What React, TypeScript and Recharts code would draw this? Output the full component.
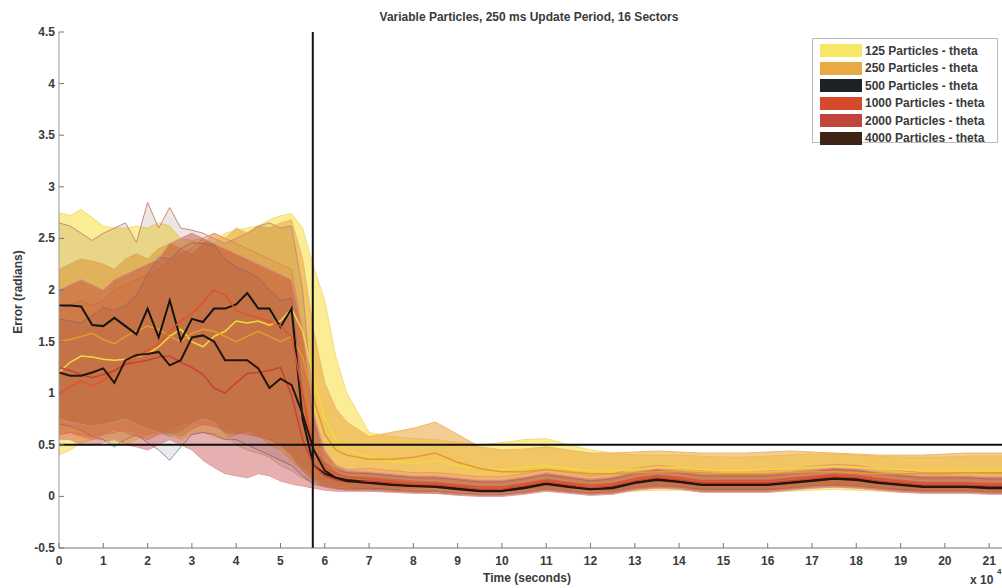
import { Area, ComposedChart, Line, ReferenceLine, XAxis, YAxis } from 'recharts'

// time axis, in units of 10^4 s
const timeX = [
    0, 0.25, 0.5, 0.75, 1, 1.25, 1.5, 1.75, 2, 2.25, 2.5, 2.75, 3, 3.25, 3.5, 3.75, 4, 4.25, 4.5, 4.75, 5, 5.25, 5.5, 5.75, 6, 6.25, 6.5,
    7, 7.5, 8, 8.5, 9, 9.5, 10, 10.5, 11, 11.5, 12, 12.5, 13, 13.5, 14, 14.5, 15, 15.5, 16, 16.5, 17, 17.5, 18, 18.5, 19, 19.5, 20, 20.5, 21, 21.5,
]

const xTicks = [0, 1, 2, 3, 4, 5, 6, 7, 8, 9, 10, 11, 12, 13, 14, 15, 16, 17, 18, 19, 20, 21]
const yTicks = [-0.5, 0, 0.5, 1, 1.5, 2, 2.5, 3, 3.5, 4, 4.5]

// 125 particles
const mean125 = [
    1.2, 1.3, 1.36, 1.35, 1.33, 1.32, 1.33, 1.35, 1.38, 1.45, 1.55, 1.62, 1.5, 1.45, 1.55, 1.6, 1.7, 1.68, 1.7, 1.66, 1.7, 1.82, 1.6, 1.15, 0.75, 0.55, 0.45,
    0.38, 0.34, 0.32, 0.35, 0.3, 0.27, 0.26, 0.28, 0.3, 0.27, 0.25, 0.25, 0.26, 0.28, 0.28, 0.26, 0.25, 0.25, 0.26, 0.27, 0.28, 0.29, 0.28, 0.27, 0.26, 0.25, 0.25, 0.25, 0.25, 0.25,
]
const hi125 = [
    2.75, 2.72, 2.78, 2.7, 2.62, 2.6, 2.6, 2.62, 2.6, 2.65, 2.62, 2.5, 2.48, 2.5, 2.45, 2.55, 2.58, 2.6, 2.62, 2.68, 2.72, 2.74, 2.6, 2.22, 1.9, 1.35, 1.0,
    0.62, 0.58, 0.56, 0.55, 0.52, 0.5, 0.52, 0.55, 0.56, 0.5, 0.45, 0.42, 0.4, 0.4, 0.4, 0.39, 0.38, 0.38, 0.39, 0.4, 0.41, 0.41, 0.4, 0.39, 0.38, 0.38, 0.38, 0.39, 0.39, 0.39,
]
const lo125 = [
    0.4, 0.45, 0.52, 0.55, 0.55, 0.5, 0.5, 0.55, 0.6, 0.62, 0.6, 0.55, 0.6, 0.62, 0.58, 0.55, 0.6, 0.65, 0.6, 0.5, 0.45, 0.35, 0.25, 0.15, 0.1, 0.08, 0.06,
    0.05, 0.05, 0.05, 0.05, 0.04, 0.04, 0.04, 0.05, 0.06, 0.05, 0.04, 0.04, 0.05, 0.06, 0.06, 0.05, 0.04, 0.04, 0.04, 0.05, 0.06, 0.07, 0.06, 0.05, 0.04, 0.04, 0.04, 0.04, 0.04, 0.04,
]

// 250 particles
const mean250 = [
    1.5, 1.52, 1.55, 1.58, 1.52, 1.48, 1.55, 1.6, 1.65, 1.62, 1.55, 1.5, 1.58, 1.62, 1.6, 1.55, 1.5, 1.55, 1.6, 1.55, 1.5, 1.55, 1.35, 0.95, 0.6, 0.45, 0.4,
    0.36, 0.36, 0.38, 0.42, 0.33, 0.27, 0.24, 0.24, 0.26, 0.24, 0.22, 0.22, 0.23, 0.24, 0.24, 0.23, 0.22, 0.22, 0.22, 0.23, 0.24, 0.24, 0.23, 0.22, 0.22, 0.22, 0.22, 0.23, 0.23, 0.23,
]
const hi250 = [
    2.2, 2.25, 2.3, 2.28, 2.25, 2.2, 2.3, 2.35, 2.3, 2.4, 2.45, 2.4, 2.35, 2.45, 2.55, 2.5, 2.6, 2.55, 2.62, 2.6, 2.65, 2.68, 2.3, 1.6, 1.1, 0.85, 0.72,
    0.58, 0.62, 0.66, 0.72, 0.6, 0.48, 0.45, 0.46, 0.48, 0.45, 0.42, 0.42, 0.43, 0.44, 0.43, 0.42, 0.42, 0.42, 0.43, 0.44, 0.43, 0.42, 0.41, 0.4, 0.4, 0.4, 0.41, 0.42, 0.42, 0.42,
]
const lo250 = [
    0.6, 0.62, 0.58, 0.55, 0.6, 0.65, 0.62, 0.58, 0.55, 0.6, 0.62, 0.58, 0.65, 0.7, 0.68, 0.62, 0.6, 0.62, 0.58, 0.55, 0.5, 0.4, 0.28, 0.18, 0.12, 0.1, 0.09,
    0.08, 0.08, 0.08, 0.09, 0.07, 0.06, 0.06, 0.07, 0.08, 0.07, 0.06, 0.06, 0.07, 0.08, 0.08, 0.07, 0.06, 0.06, 0.06, 0.07, 0.08, 0.09, 0.08, 0.07, 0.06, 0.06, 0.06, 0.06, 0.06, 0.06,
]

// 500 particles
const mean500 = [
    1.85, 1.85, 1.84, 1.66, 1.65, 1.73, 1.65, 1.57, 1.82, 1.54, 1.9, 1.51, 1.72, 1.69, 1.82, 1.82, 1.86, 1.97, 1.82, 1.82, 1.64, 1.82, 0.75, 0.3, 0.22, 0.18, 0.16,
    0.14, 0.12, 0.1, 0.1, 0.08, 0.06, 0.06, 0.09, 0.13, 0.1, 0.07, 0.09, 0.14, 0.17, 0.15, 0.12, 0.12, 0.12, 0.12, 0.14, 0.16, 0.18, 0.17, 0.14, 0.12, 0.1, 0.1, 0.1, 0.09, 0.09,
]
const hi500 = [
    1.72, 1.7, 1.68, 1.75, 1.83, 1.8, 1.85, 1.95, 2.15, 2.32, 2.3, 2.4, 2.46, 2.45, 2.44, 2.3, 2.22, 2.18, 2.12, 2.0, 1.9, 1.92, 1.0, 0.45, 0.32, 0.26, 0.23,
    0.22, 0.2, 0.18, 0.18, 0.16, 0.14, 0.14, 0.17, 0.21, 0.18, 0.15, 0.17, 0.22, 0.25, 0.23, 0.2, 0.2, 0.2, 0.2, 0.22, 0.24, 0.26, 0.25, 0.22, 0.2, 0.18, 0.18, 0.18, 0.17, 0.17,
]
const lo500 = [
    0.7, 0.68, 0.64, 0.58, 0.55, 0.48, 0.55, 0.6, 0.52, 0.45, 0.35, 0.48, 0.6, 0.62, 0.6, 0.55, 0.55, 0.5, 0.45, 0.4, 0.35, 0.3, 0.2, 0.12, 0.1, 0.08, 0.07,
    0.08, 0.07, 0.05, 0.05, 0.03, 0.02, 0.02, 0.04, 0.07, 0.05, 0.03, 0.04, 0.08, 0.1, 0.09, 0.07, 0.07, 0.07, 0.07, 0.08, 0.1, 0.11, 0.1, 0.08, 0.07, 0.05, 0.05, 0.05, 0.04, 0.04,
]

// 1000 particles
const mean1000 = [
    1.0, 1.06, 1.12, 1.07, 1.12, 1.22, 1.28, 1.35, 1.42, 1.48, 1.6, 1.7, 1.77, 1.88, 2.0, 1.95, 1.8, 1.76, 1.73, 1.7, 1.65, 1.55, 1.0, 0.45, 0.28, 0.22, 0.19,
    0.17, 0.15, 0.13, 0.13, 0.11, 0.09, 0.09, 0.12, 0.16, 0.13, 0.1, 0.12, 0.17, 0.2, 0.18, 0.15, 0.15, 0.15, 0.15, 0.17, 0.19, 0.21, 0.2, 0.17, 0.15, 0.13, 0.13, 0.13, 0.12, 0.12,
]
const hi1000 = [
    1.8, 1.85, 1.9, 1.85, 1.9, 2.0, 2.05, 2.1, 2.15, 2.2, 2.3, 2.35, 2.4, 2.5, 2.55, 2.5, 2.45, 2.4, 2.35, 2.3, 2.25, 2.2, 1.6, 0.7, 0.4, 0.3, 0.26,
    0.27, 0.25, 0.23, 0.23, 0.21, 0.19, 0.19, 0.22, 0.26, 0.23, 0.2, 0.22, 0.27, 0.3, 0.28, 0.25, 0.25, 0.25, 0.25, 0.27, 0.29, 0.31, 0.3, 0.27, 0.25, 0.23, 0.23, 0.23, 0.22, 0.22,
]
const lo1000 = [
    0.6, 0.62, 0.6, 0.58, 0.6, 0.62, 0.65, 0.62, 0.6, 0.62, 0.65, 0.7, 0.72, 0.7, 0.68, 0.65, 0.62, 0.6, 0.58, 0.55, 0.5, 0.4, 0.25, 0.15, 0.1, 0.08, 0.07,
    0.07, 0.06, 0.05, 0.05, 0.03, 0.02, 0.02, 0.04, 0.07, 0.05, 0.03, 0.04, 0.08, 0.1, 0.09, 0.06, 0.06, 0.06, 0.06, 0.08, 0.1, 0.11, 0.1, 0.08, 0.06, 0.05, 0.05, 0.05, 0.04, 0.04,
]

// 2000 particles
const mean2000 = [
    1.25, 1.22, 1.18, 1.15, 1.18, 1.22, 1.28, 1.3, 1.32, 1.35, 1.36, 1.3, 1.25, 1.18, 1.05, 1.0, 1.1, 1.19, 1.2, 1.22, 1.25, 0.98, 0.55, 0.3, 0.2, 0.16, 0.14,
    0.15, 0.13, 0.11, 0.11, 0.09, 0.07, 0.07, 0.1, 0.14, 0.11, 0.08, 0.1, 0.15, 0.18, 0.16, 0.13, 0.13, 0.13, 0.13, 0.15, 0.17, 0.19, 0.18, 0.15, 0.13, 0.11, 0.11, 0.11, 0.1, 0.1,
]
const hi2000 = [
    2.0, 2.05, 2.1, 2.05, 2.0, 2.1, 2.15, 2.2, 2.25, 2.3, 2.45, 2.5, 2.55, 2.5, 2.45, 2.4, 2.35, 2.3, 2.25, 2.2, 2.15, 2.1, 1.6, 0.8, 0.45, 0.3, 0.25,
    0.24, 0.22, 0.2, 0.2, 0.18, 0.16, 0.16, 0.19, 0.23, 0.2, 0.17, 0.19, 0.24, 0.27, 0.25, 0.22, 0.22, 0.22, 0.22, 0.24, 0.26, 0.28, 0.27, 0.24, 0.22, 0.2, 0.2, 0.2, 0.19, 0.19,
]
const lo2000 = [
    0.55, 0.55, 0.5, 0.5, 0.52, 0.55, 0.5, 0.48, 0.45, 0.5, 0.55, 0.5, 0.45, 0.35, 0.28, 0.22, 0.2, 0.18, 0.22, 0.2, 0.15, 0.12, 0.1, 0.08, 0.06, 0.05, 0.05,
    0.05, 0.04, 0.03, 0.03, 0.01, 0.0, 0.0, 0.02, 0.05, 0.03, 0.01, 0.02, 0.06, 0.08, 0.07, 0.04, 0.04, 0.04, 0.04, 0.06, 0.08, 0.09, 0.08, 0.06, 0.04, 0.03, 0.03, 0.03, 0.02, 0.02,
]

// 4000 particles
const mean4000 = [
    1.2, 1.17, 1.17, 1.2, 1.24, 1.1, 1.32, 1.37, 1.38, 1.4, 1.27, 1.32, 1.54, 1.56, 1.5, 1.32, 1.32, 1.32, 1.24, 1.05, 1.14, 1.08, 0.8, 0.45, 0.25, 0.18, 0.15,
    0.13, 0.11, 0.1, 0.09, 0.07, 0.05, 0.05, 0.08, 0.12, 0.09, 0.07, 0.08, 0.13, 0.16, 0.14, 0.11, 0.11, 0.11, 0.11, 0.13, 0.15, 0.17, 0.16, 0.13, 0.11, 0.09, 0.09, 0.09, 0.08, 0.08,
]
const hi4000 = [
    2.65, 2.62, 2.55, 2.48, 2.55, 2.6, 2.65, 2.46, 2.85, 2.6, 2.8, 2.6, 2.58, 2.55, 2.5, 2.45, 2.5, 2.55, 2.62, 2.65, 2.6, 2.62, 2.0, 0.8, 0.35, 0.25, 0.2,
    0.2, 0.18, 0.16, 0.15, 0.13, 0.11, 0.11, 0.14, 0.18, 0.15, 0.13, 0.14, 0.19, 0.22, 0.2, 0.17, 0.17, 0.17, 0.17, 0.19, 0.21, 0.23, 0.22, 0.19, 0.17, 0.15, 0.15, 0.15, 0.14, 0.14,
]
const lo4000 = [
    0.75, 0.72, 0.7, 0.68, 0.7, 0.72, 0.75, 0.7, 0.65, 0.62, 0.58, 0.62, 0.7, 0.75, 0.72, 0.6, 0.5, 0.45, 0.42, 0.38, 0.3, 0.25, 0.18, 0.12, 0.09, 0.07, 0.06,
    0.06, 0.05, 0.04, 0.03, 0.02, 0.01, 0.01, 0.03, 0.06, 0.04, 0.02, 0.03, 0.07, 0.09, 0.08, 0.05, 0.05, 0.05, 0.05, 0.07, 0.09, 0.1, 0.09, 0.07, 0.05, 0.04, 0.04, 0.04, 0.03, 0.03,
]

const series = [
    { key: '125', name: '125 Particles - theta', mean: mean125, lo: lo125, hi: hi125, fill: '#f7e35e', op: 0.65, edge: '#f2de7a', line: '#f0da3c', swatch: '#f8e665', lw: 1.5 },
    { key: '250', name: '250 Particles - theta', mean: mean250, lo: lo250, hi: hi250, fill: '#e9a43a', op: 0.55, edge: '#f0b868', line: '#e49a2c', swatch: '#e9aa46', lw: 1.5 },
    { key: '500', name: '500 Particles - theta', mean: mean500, lo: lo500, hi: hi500, fill: '#3a3f4a', op: 0.1, edge: '#8a93a8', line: '#141414', swatch: '#1c2226', lw: 2 },
    { key: '1000', name: '1000 Particles - theta', mean: mean1000, lo: lo1000, hi: hi1000, fill: '#d9532c', op: 0.1, edge: '#ef9468', line: '#e2522a', swatch: '#d44a2b', lw: 1.5 },
    { key: '2000', name: '2000 Particles - theta', mean: mean2000, lo: lo2000, hi: hi2000, fill: '#c43a3a', op: 0.4, edge: '#e79a9a', line: '#c8403a', swatch: '#c0453c', lw: 1.5 },
    { key: '4000', name: '4000 Particles - theta', mean: mean4000, lo: lo4000, hi: hi4000, fill: '#6b321c', op: 0.12, edge: '#c98a7a', line: '#24160e', swatch: '#3e2414', lw: 2 },
]

const data = timeX.map((t, i) => {
    const row: Record<string, number | number[]> = { t }
    series.forEach((s) => {
        row['r' + s.key] = [s.lo[i], s.hi[i]]
        row['m' + s.key] = s.mean[i]
    })
    return row
})

const FONT = '"Liberation Sans", Arial, sans-serif'
const TXT = '#3a3a3a'

const YTick = (props: any) => {
    const { y, payload } = props
    return (
        <g>
            <line x1={59} x2={64} y1={y} y2={y} stroke='#777' />
            <text x={55} y={y + 4} textAnchor='end' fontSize={12} fontWeight='bold' fill={TXT} fontFamily={FONT}>
                {payload.value}
            </text>
        </g>
    )
}

const XTick = (props: any) => {
    const { x, payload } = props
    return (
        <g>
            <line x1={x} x2={x} y1={548} y2={543} stroke='#777' />
            <text x={x} y={565} textAnchor='middle' fontSize={12} fontWeight='bold' fill={TXT} fontFamily={FONT}>
                {payload.value}
            </text>
        </g>
    )
}

export default function App() {
    return (
        <div style={{ position: 'absolute', left: 0, top: 0, width: 1002, height: 588, background: '#fff', fontFamily: FONT }}>
            <ComposedChart width={1002} height={588} data={data} margin={{ top: 32, right: 0, bottom: 10, left: 0 }}>
                <XAxis
                    type='number'
                    dataKey='t'
                    domain={[0, 21.29]}
                    allowDataOverflow
                    ticks={xTicks}
                    tick={<XTick />}
                    tickLine={false}
                    height={30}
                    stroke='#777'
                />
                <YAxis
                    type='number'
                    domain={[-0.5, 4.5]}
                    ticks={yTicks}
                    tick={<YTick />}
                    tickLine={false}
                    width={59}
                    stroke='#999'
                />
                {series.map((s) => (
                    <Area
                        key={'r' + s.key}
                        type='linear'
                        dataKey={'r' + s.key}
                        fill={s.fill}
                        fillOpacity={s.op}
                        stroke={s.edge}
                        strokeWidth={1}
                        dot={false}
                        activeDot={false}
                        isAnimationActive={false}
                    />
                ))}
                {series.map((s) => (
                    <Line
                        key={'m' + s.key}
                        type='linear'
                        dataKey={'m' + s.key}
                        stroke={s.line}
                        strokeWidth={s.lw}
                        dot={false}
                        activeDot={false}
                        isAnimationActive={false}
                    />
                ))}
                <ReferenceLine x={5.73} stroke='#111' strokeWidth={2} />
                <ReferenceLine y={0.5} stroke='#111' strokeWidth={2} />
            </ComposedChart>

            <svg width={1002} height={588} style={{ position: 'absolute', left: 0, top: 0, pointerEvents: 'none' }}>
                <text x={529} y={21} textAnchor='middle' fontSize={12} fontWeight='bold' fill={TXT} fontFamily={FONT}>
                    Variable Particles, 250 ms Update Period, 16 Sectors
                </text>
                <text x={22} y={292} textAnchor='middle' fontSize={12} fontWeight='bold' fill={TXT} fontFamily={FONT} transform='rotate(-90 22 292)'>
                    Error (radians)
                </text>
                <text x={527} y={582} textAnchor='middle' fontSize={12} fontWeight='bold' fill={TXT} fontFamily={FONT}>
                    Time (seconds)
                </text>
                <text x={970} y={584} fontSize={12} fontWeight='bold' fill={TXT} fontFamily={FONT}>
                    x 10
                </text>
                <text x={997} y={574} fontSize={8} fontWeight='bold' fill={TXT} fontFamily={FONT}>
                    4
                </text>
            </svg>

            <div
                style={{
                    position: 'absolute',
                    left: 812,
                    top: 38,
                    width: 186,
                    height: 105,
                    border: '1px solid #bbb',
                    background: '#fff',
                    boxSizing: 'border-box',
                    padding: '3px 0 0 7px',
                }}
            >
                {series.map((s) => (
                    <div key={s.key} style={{ display: 'flex', alignItems: 'center', height: 17.5 }}>
                        <span style={{ display: 'inline-block', width: 42, height: 13, background: s.swatch, marginRight: 3, flexShrink: 0 }} />
                        <span style={{ fontSize: 12, fontWeight: 'bold', color: TXT, whiteSpace: 'nowrap' }}>{s.name}</span>
                    </div>
                ))}
            </div>
        </div>
    )
}
